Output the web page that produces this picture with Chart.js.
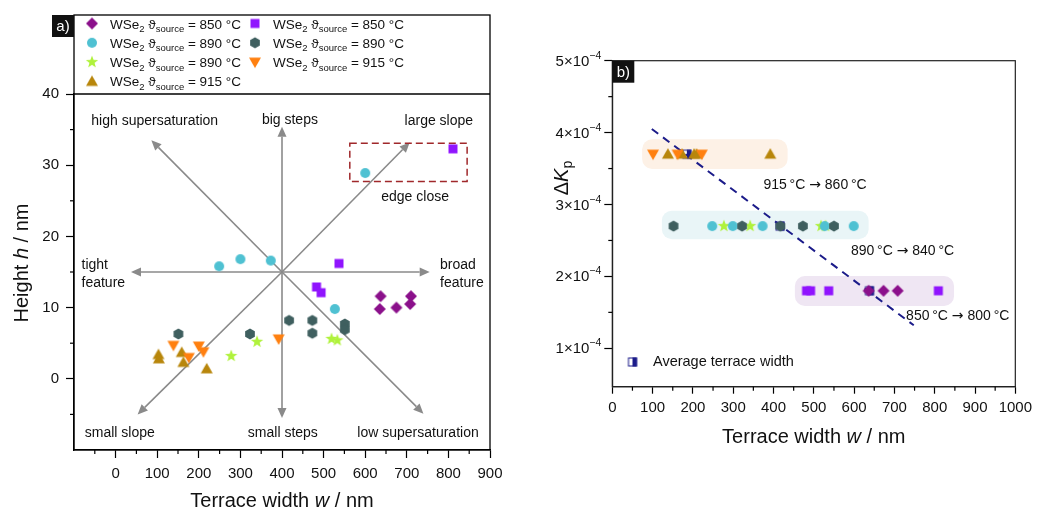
<!DOCTYPE html>
<html lang="en">
<head>
<meta charset="UTF-8">
<title>Terrace width</title>
<style>
  body { margin: 0; background: #fff; }
  #tela { position: relative; width: 1037px; height: 511px; overflow: hidden; }
  #graficoA { position: absolute; left: 0; top: 0; }
  #graficoB { position: absolute; left: 520px; top: 0; }
</style>
</head>
<body>
<div id="tela">
  <canvas id="graficoA" width="530" height="511"></canvas>
  <canvas id="graficoB" width="517" height="511"></canvas>
</div>
<script src="https://cdn.jsdelivr.net/npm/chart.js"></script>
<script>
  // ---- panel a) : terrace width w (nm) x height h (nm) ----
  var diamondW = [635, 637, 675, 708, 710];
  var diamondH = [9.8, 11.6, 10.0, 10.5, 11.6];
  var squareW = [483, 494, 537, 811];
  var squareH = [12.9, 12.1, 16.2, 32.3];
  var circleW = [249, 300, 373, 527, 600];
  var circleH = [15.8, 16.8, 16.6, 9.8, 28.9];
  var hexW = [151, 323, 417, 473, 473, 551, 551];
  var hexH = [6.3, 6.3, 8.2, 8.2, 6.4, 7.7, 6.9];
  var starW = [278, 340, 519, 533];
  var starH = [3.2, 5.2, 5.6, 5.4];
  var downW = [139, 176, 200, 211, 392];
  var downH = [4.7, 3.0, 4.6, 3.8, 5.6];
  var upW = [103, 104, 159, 163, 219];
  var upH = [3.4, 2.8, 3.7, 2.3, 1.4];

  var xTicksA = [0, 100, 200, 300, 400, 500, 600, 700, 800, 900];
  var xMinorA = [-50, 50, 150, 250, 350, 450, 550, 650, 750, 850];
  var yTicksA = [0, 10, 20, 30, 40];
  var yMinorA = [-5, 5, 15, 25, 35];

  // ---- panel b) : terrace width w (nm) x delta K_p ----
  var rowK = [3.7e-4, 2.7e-4, 1.8e-4];          // 915, 890, 850 °C
  var bDown915 = [101, 162, 222];
  var bUp915 = [138, 173, 203, 209, 392];
  var bHex890 = [152, 322, 417, 473, 550];
  var bCircle890 = [248, 299, 373, 527, 599];
  var bStar890 = [277, 342, 518, 529];
  var bSquare850 = [482, 492, 537, 809];
  var bDiamond850 = [636, 673, 708];
  var avgW = [185, 416, 638];
  var fitW = [98, 748];
  var fitK = [4.05e-4, 1.32e-4];

  var xTicksB = [0, 100, 200, 300, 400, 500, 600, 700, 800, 900, 1000];
  var xMinorB = [50, 150, 250, 350, 450, 550, 650, 750, 850, 950];
  var yTicksB = [1e-4, 2e-4, 3e-4, 4e-4, 5e-4];
  var yMinorB = [1.5e-4, 2.5e-4, 3.5e-4, 4.5e-4];

  var fonte = "'Liberation Sans', Arial, sans-serif";

  // cores
  var roxo = '#8b108b', violeta = '#9014fe', ciano = '#4fc1d2', ardosia = '#3f5f5f';
  var verde = '#b0f23c', laranja = '#ff8010', ouro = '#b8860b', marinho = '#1c1c8a';

  // marcadores desenhados num canvas pequeno (usados como pointStyle)
  function marca(forma, cor) {
    var c = document.createElement('canvas');
    c.width = 16; c.height = 16;
    var g = c.getContext('2d');
    g.translate(8, 8);
    g.fillStyle = cor;
    g.beginPath();
    if (forma == 'losango') {
      g.moveTo(0, -6); g.lineTo(6, 0); g.lineTo(0, 6); g.lineTo(-6, 0);
    } else if (forma == 'quadrado') {
      g.rect(-4.5, -4.5, 9, 9);
    } else if (forma == 'circulo') {
      g.arc(0, 0, 5, 0, Math.PI * 2);
    } else if (forma == 'hexagono') {
      for (var i = 0; i < 6; i++) {
        var a = -Math.PI / 2 + i * Math.PI / 3;
        g.lineTo(5.6 * Math.cos(a), 5.6 * Math.sin(a));
      }
    } else if (forma == 'estrela') {
      for (var i = 0; i < 10; i++) {
        var a = -Math.PI / 2 + i * Math.PI / 5;
        var r = i % 2 == 0 ? 6.5 : 2.7;
        g.lineTo(r * Math.cos(a), r * Math.sin(a));
      }
    } else if (forma == 'triangulo') {
      g.moveTo(0, -6); g.lineTo(6, 4.5); g.lineTo(-6, 4.5);
    } else if (forma == 'invertido') {
      g.moveTo(0, 6); g.lineTo(6, -4.5); g.lineTo(-6, -4.5);
    } else if (forma == 'media') {
      g.fillStyle = '#fff'; g.fillRect(-4.5, -4.5, 9, 9);
      g.fillStyle = cor; g.fillRect(0, -4.5, 4.5, 9);
      g.strokeStyle = cor; g.lineWidth = 1; g.strokeRect(-4, -4, 8, 8);
      return c;
    }
    g.closePath();
    g.fill();
    return c;
  }

  var mLosango = marca('losango', roxo);
  var mQuadrado = marca('quadrado', violeta);
  var mCirculo = marca('circulo', ciano);
  var mHexagono = marca('hexagono', ardosia);
  var mEstrela = marca('estrela', verde);
  var mInvertido = marca('invertido', laranja);
  var mTriangulo = marca('triangulo', ouro);
  var mMedia = marca('media', marinho);

  function pontos(xs, ys) {
    return xs.map(function (x, i) { return { x: x, y: ys[i] }; });
  }
  function linha(xs, y) {
    return xs.map(function (x) { return { x: x, y: y }; });
  }
  function serie(rotulo, dados, estilo) {
    return { label: rotulo, data: dados, pointStyle: estilo, pointRadius: 6 };
  }

  // texto com partes (subscrito, italico, outra fonte)
  function textoRico(ctx, partes, x, y, alinhar) {
    var total = 0;
    partes.forEach(function (p) {
      ctx.font = (p.it ? 'italic ' : '') + p.s + 'px ' + (p.f || fonte);
      p.w = ctx.measureText(p.t).width;
      total += p.w;
    });
    var cx = alinhar == 'center' ? x - total / 2 : (alinhar == 'right' ? x - total : x);
    ctx.textAlign = 'left';
    ctx.textBaseline = 'alphabetic';
    partes.forEach(function (p) {
      ctx.font = (p.it ? 'italic ' : '') + p.s + 'px ' + (p.f || fonte);
      ctx.fillText(p.t, cx, y + (p.dy || 0));
      cx += p.w;
    });
  }

  function tracinhos(ctx, escala, valores, tam, vertical) {
    ctx.save();
    ctx.strokeStyle = '#000';
    ctx.lineWidth = 1.2;
    valores.forEach(function (v) {
      var p = escala.getPixelForValue(v);
      ctx.beginPath();
      if (vertical) { ctx.moveTo(escala.right, p); ctx.lineTo(escala.right - tam, p); }
      else { ctx.moveTo(p, escala.top); ctx.lineTo(p, escala.top + tam); }
      ctx.stroke();
    });
    ctx.restore();
  }

  function caixaRotulo(ctx, txt, x, y) {
    ctx.fillStyle = '#111';
    ctx.fillRect(x, y, 22, 22);
    ctx.fillStyle = '#fff';
    ctx.font = '15px ' + fonte;
    ctx.textAlign = 'center';
    ctx.textBaseline = 'middle';
    ctx.fillText(txt, x + 11, y + 12);
  }

  // ---------------- painel a ----------------
  var setas = [[37, 15], [755, 15], [400, 35.4], [400, -5.5], [86, 33.5], [707, 33.2], [53, -5], [740, -4.9]];
  var centroSetas = [400, 15];
  var caixaBorda = [563, 33.1, 845, 27.7];
  var textosA = [
    ['high supersaturation', 94, 36.2, 'center'],
    ['big steps', 419, 36.3, 'center'],
    ['large slope', 777, 36.2, 'center'],
    ['edge close', 720, 25.5, 'center'],
    ['tight', -82, 16.0, 'left'],
    ['feature', -82, 13.5, 'left'],
    ['broad', 780, 16.0, 'left'],
    ['feature', 780, 13.5, 'left'],
    ['small slope', 10, -7.6, 'center'],
    ['small steps', 402, -7.6, 'center'],
    ['low supersaturation', 727, -7.6, 'center']
  ];
  var legendaA = [
    [mLosango, '850', 0, 0], [mQuadrado, '850', 1, 0],
    [mCirculo, '890', 0, 1], [mHexagono, '890', 1, 1],
    [mEstrela, '890', 0, 2], [mInvertido, '915', 1, 2],
    [mTriangulo, '915', 0, 3]
  ];

  var extrasA = {
    id: 'extrasA',
    beforeDatasetsDraw: function (chart) {
      var ctx = chart.ctx, sx = chart.scales.x, sy = chart.scales.y;
      var cx = sx.getPixelForValue(centroSetas[0]), cy = sy.getPixelForValue(centroSetas[1]);
      ctx.save();
      ctx.strokeStyle = '#8a8a8a';
      ctx.fillStyle = '#8a8a8a';
      ctx.lineWidth = 1.6;
      setas.forEach(function (s) {
        var ex = sx.getPixelForValue(s[0]), ey = sy.getPixelForValue(s[1]);
        var ang = Math.atan2(ey - cy, ex - cx);
        var bx = ex - 10 * Math.cos(ang), by = ey - 10 * Math.sin(ang);
        ctx.beginPath(); ctx.moveTo(cx, cy); ctx.lineTo(bx, by); ctx.stroke();
        ctx.beginPath();
        ctx.moveTo(ex, ey);
        ctx.lineTo(bx + 4.5 * Math.sin(ang), by - 4.5 * Math.cos(ang));
        ctx.lineTo(bx - 4.5 * Math.sin(ang), by + 4.5 * Math.cos(ang));
        ctx.closePath(); ctx.fill();
      });
      // caixa tracejada "edge close"
      ctx.strokeStyle = '#a0282b';
      ctx.lineWidth = 1.5;
      ctx.setLineDash([7, 4]);
      var x1 = sx.getPixelForValue(caixaBorda[0]), y1 = sy.getPixelForValue(caixaBorda[1]);
      var x2 = sx.getPixelForValue(caixaBorda[2]), y2 = sy.getPixelForValue(caixaBorda[3]);
      ctx.strokeRect(x1, y1, x2 - x1, y2 - y1);
      ctx.restore();
    },
    afterDraw: function (chart) {
      var ctx = chart.ctx, sx = chart.scales.x, sy = chart.scales.y, a = chart.chartArea;
      ctx.save();
      // moldura + caixa da legenda
      ctx.strokeStyle = '#000';
      ctx.lineWidth = 1.3;
      ctx.strokeRect(a.left, 15, a.right - a.left, a.bottom - 15);
      ctx.beginPath(); ctx.moveTo(a.left, a.top); ctx.lineTo(a.right, a.top); ctx.stroke();
      tracinhos(ctx, sx, xMinorA, 4, false);
      tracinhos(ctx, sy, yMinorA, 4, true);

      ctx.fillStyle = '#111';
      textosA.forEach(function (t) {
        ctx.font = '14px ' + fonte;
        ctx.textAlign = t[3];
        ctx.textBaseline = 'middle';
        ctx.fillText(t[0], sx.getPixelForValue(t[1]), sy.getPixelForValue(t[2]));
      });

      // legenda
      legendaA.forEach(function (l) {
        var mx = l[2] == 0 ? 92 : 255, my = 23.5 + l[3] * 19.3;
        ctx.drawImage(l[0], mx - 8, my - 8);
        ctx.fillStyle = '#111';
        textoRico(ctx, [
          { t: 'WSe', s: 13.5 }, { t: '2', s: 9.5, dy: 3.5 },
          { t: ' \u03D1', s: 13.5 }, { t: 'source', s: 9.5, dy: 3.5 },
          { t: ' = ' + l[1] + ' \u00B0C', s: 13.5 }
        ], mx + 18, my + 5, 'left');
      });

      // titulos dos eixos
      ctx.fillStyle = '#111';
      textoRico(ctx, [{ t: 'Terrace width ', s: 20 }, { t: 'w', s: 20, it: true }, { t: ' / nm', s: 20 }],
        (a.left + a.right) / 2, 507, 'center');
      ctx.translate(28, 263);
      ctx.rotate(-Math.PI / 2);
      textoRico(ctx, [{ t: 'Height ', s: 20 }, { t: 'h', s: 20, it: true }, { t: ' / nm', s: 20 }], 0, 0, 'center');
      ctx.restore();
      caixaRotulo(ctx, 'a)', a.left - 22, 15);
    }
  };

  new Chart(document.getElementById('graficoA'), {
    type: 'scatter',
    data: {
      datasets: [
        serie('850 diamond', pontos(diamondW, diamondH), mLosango),
        serie('850 square', pontos(squareW, squareH), mQuadrado),
        serie('890 circle', pontos(circleW, circleH), mCirculo),
        serie('890 hexagon', pontos(hexW, hexH), mHexagono),
        serie('890 star', pontos(starW, starH), mEstrela),
        serie('915 down', pontos(downW, downH), mInvertido),
        serie('915 up', pontos(upW, upH), mTriangulo)
      ]
    },
    options: {
      responsive: false,
      animation: false,
      events: [],
      layout: { padding: { left: 0, right: 40, top: 94, bottom: 0 } },
      plugins: { legend: { display: false }, tooltip: { enabled: false } },
      scales: {
        x: {
          type: 'linear', min: -100, max: 900,
          afterBuildTicks: function (s) { s.ticks = xTicksA.map(function (v) { return { value: v }; }); },
          afterFit: function (s) { s.height = 61; },
          grid: { drawOnChartArea: false, tickLength: 8, tickColor: '#000', tickWidth: 1.2 },
          border: { color: '#000', width: 1.3 },
          ticks: { color: '#111', font: { family: fonte, size: 15 }, padding: 7, maxRotation: 0, autoSkip: false,
                   callback: function (v) { return String(v); } }
        },
        y: {
          type: 'linear', min: -10, max: 40,
          afterBuildTicks: function (s) { s.ticks = yTicksA.map(function (v) { return { value: v }; }); },
          afterFit: function (s) { s.width = 74; },
          grid: { drawOnChartArea: false, tickLength: 8, tickColor: '#000', tickWidth: 1.2 },
          border: { color: '#000', width: 1.3 },
          ticks: { color: '#111', font: { family: fonte, size: 15 }, padding: 7,
                   callback: function (v) { return String(v); } }
        }
      }
    },
    plugins: [extrasA]
  });

  // ---------------- painel b ----------------
  var faixas = [
    [74, 3.907e-4, 435, 3.494e-4, '#fdf1e6'],
    [123, 2.914e-4, 636, 2.516e-4, '#e9f5f7'],
    [453, 2.006e-4, 848, 1.588e-4, '#efe6f3']
  ];
  var textosB = [
    ['915', '860', 375, 3.285e-4],
    ['890', '840', 592, 2.367e-4],
    ['850', '800', 729, 1.463e-4]
  ];

  var extrasB = {
    id: 'extrasB',
    beforeDatasetsDraw: function (chart) {
      var ctx = chart.ctx, sx = chart.scales.x, sy = chart.scales.y;
      ctx.save();
      faixas.forEach(function (f) {
        var x1 = sx.getPixelForValue(f[0]), y1 = sy.getPixelForValue(f[1]);
        var x2 = sx.getPixelForValue(f[2]), y2 = sy.getPixelForValue(f[3]);
        ctx.fillStyle = f[4];
        ctx.beginPath();
        ctx.roundRect(x1, y1, x2 - x1, y2 - y1, 10);
        ctx.fill();
      });
      ctx.restore();
    },
    afterDraw: function (chart) {
      var ctx = chart.ctx, sx = chart.scales.x, sy = chart.scales.y, a = chart.chartArea;
      ctx.save();
      ctx.strokeStyle = '#222';
      ctx.lineWidth = 1.2;
      ctx.strokeRect(a.left, a.top, a.right - a.left, a.bottom - a.top);
      tracinhos(ctx, sx, xMinorB, 4, false);
      tracinhos(ctx, sy, yMinorB, 4, true);

      // rotulos do eixo y com expoente
      ctx.fillStyle = '#111';
      yTicksB.forEach(function (v) {
        var py = sy.getPixelForValue(v);
        textoRico(ctx, [{ t: Math.round(v * 1e4) + '\u00D710', s: 15 }, { t: '\u22124', s: 10.5, dy: -7 }],
          a.left - 11, py + 5, 'right');
      });

      // rotulos das faixas de temperatura
      textosB.forEach(function (t) {
        textoRico(ctx, [
          { t: t[0] + '\u2009\u00B0C ', s: 14 },
          { t: '\u2192', s: 14, f: "'DejaVu Sans', sans-serif" },
          { t: ' ' + t[1] + '\u2009\u00B0C', s: 14 }
        ], sx.getPixelForValue(t[2]), sy.getPixelForValue(t[3]) + 5, 'left');
      });

      // legenda da media
      var lx = sx.getPixelForValue(50), ly = sy.getPixelForValue(0.81e-4);
      ctx.drawImage(mMedia, lx - 8, ly - 8);
      ctx.font = '14.5px ' + fonte;
      ctx.textAlign = 'left';
      ctx.textBaseline = 'middle';
      ctx.fillText('Average terrace width', sx.getPixelForValue(101), ly);

      textoRico(ctx, [{ t: 'Terrace width ', s: 20 }, { t: 'w', s: 20, it: true }, { t: ' / nm', s: 20 }],
        (a.left + a.right) / 2, 443, 'center');
      ctx.translate(48, 178);
      ctx.rotate(-Math.PI / 2);
      textoRico(ctx, [{ t: '\u0394', s: 20 }, { t: 'K', s: 20, it: true }, { t: 'p', s: 14, dy: 4 }], 0, 0, 'center');
      ctx.restore();
      caixaRotulo(ctx, 'b)', a.left, a.top);
    }
  };

  var tracejada = {
    label: 'fit', data: pontos(fitW, fitK), showLine: true, pointRadius: 0,
    borderColor: marinho, borderWidth: 2, borderDash: [8, 6]
  };

  new Chart(document.getElementById('graficoB'), {
    type: 'scatter',
    data: {
      datasets: [
        serie('915 down', linha(bDown915, rowK[0]), mInvertido),
        serie('915 up', linha(bUp915, rowK[0]), mTriangulo),
        serie('890 hexagon', linha(bHex890, rowK[1]), mHexagono),
        serie('890 circle', linha(bCircle890, rowK[1]), mCirculo),
        serie('890 star', linha(bStar890, rowK[1]), mEstrela),
        serie('850 square', linha(bSquare850, rowK[2]), mQuadrado),
        serie('850 diamond', linha(bDiamond850, rowK[2]), mLosango),
        tracejada,
        serie('Average terrace width', pontos(avgW, rowK), mMedia)
      ]
    },
    options: {
      responsive: false,
      animation: false,
      events: [],
      layout: { padding: { left: 0, right: 18.5, top: 60.7, bottom: 0 } },
      plugins: { legend: { display: false }, tooltip: { enabled: false } },
      scales: {
        x: {
          type: 'linear', min: 0, max: 1000,
          afterBuildTicks: function (s) { s.ticks = xTicksB.map(function (v) { return { value: v }; }); },
          afterFit: function (s) { s.height = 124.3; },
          grid: { drawOnChartArea: false, tickLength: 7, tickColor: '#000', tickWidth: 1.2 },
          border: { color: '#222', width: 1.2 },
          ticks: { color: '#111', font: { family: fonte, size: 15 }, padding: 5, maxRotation: 0, autoSkip: false,
                   callback: function (v) { return String(v); } }
        },
        y: {
          type: 'linear', min: 0.466e-4, max: 5e-4,
          afterBuildTicks: function (s) { s.ticks = yTicksB.map(function (v) { return { value: v }; }); },
          afterFit: function (s) { s.width = 92.3; },
          grid: { drawOnChartArea: false, tickLength: 8, tickColor: '#000', tickWidth: 1.2 },
          border: { color: '#222', width: 1.2 },
          ticks: { display: false }
        }
      }
    },
    plugins: [extrasB]
  });
</script>
</body>
</html>
